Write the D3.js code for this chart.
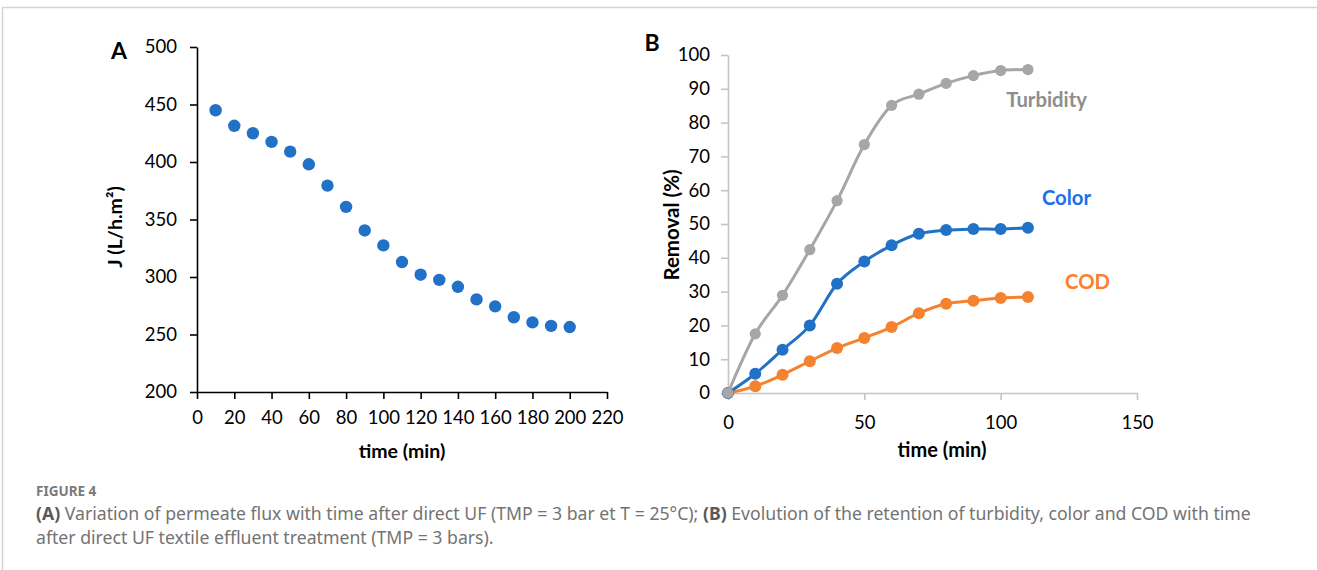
<!DOCTYPE html>
<html>
<head>
<meta charset="utf-8">
<script src="https://cdn.jsdelivr.net/npm/d3@7/dist/d3.min.js"></script>
<style>
  body { margin: 0; background: #fff; }
  svg { display: block; }
</style>
</head>
<body>
<script>
// data for panel A (flux vs time)
var fluxTime = [10, 20, 30, 40, 50, 60, 70, 80, 90, 100, 110, 120, 130, 140, 150, 160, 170, 180, 190, 200];
var fluxJ = [445, 431.5, 425, 417.5, 409, 398, 379.5, 361, 340.5, 327.5, 313, 302, 297.5, 291.5, 280.5, 274.5, 265, 260.5, 257.5, 256.5];
var fluxXTicks = [0, 20, 40, 60, 80, 100, 120, 140, 160, 180, 200, 220];
var fluxYTicks = [200, 250, 300, 350, 400, 450, 500];

// data for panel B (removal vs time)
var remTime = [0, 10, 20, 30, 40, 50, 60, 70, 80, 90, 100, 110];
var turbidity = [0, 17.5, 28.9, 42.4, 56.9, 73.5, 85.1, 88.4, 91.6, 93.9, 95.4, 95.7];
var color = [0, 5.7, 12.8, 20.0, 32.3, 38.9, 43.7, 47.1, 48.2, 48.5, 48.5, 48.9];
var cod = [0, 2.0, 5.4, 9.4, 13.3, 16.3, 19.5, 23.6, 26.4, 27.3, 28.1, 28.4];
var seriesNames = ["COD", "Color", "Turbidity"];
var remXTicks = [0, 50, 100, 150];
var remYTicks = [0, 10, 20, 30, 40, 50, 60, 70, 80, 90, 100];

var W = 1317, H = 570;
var chartFont = "Lato, 'Open Sans', sans-serif";
var tickFs = 18.5;

var svg = d3.select("body").append("svg")
  .attr("width", W)
  .attr("height", H);

// page frame (top + left rule)
svg.append("line").attr("x1", 2).attr("x2", W).attr("y1", 7.5).attr("y2", 7.5)
  .attr("stroke", "#d4d4d4").attr("stroke-width", 1.5);
svg.append("line").attr("x1", 2.5).attr("x2", 2.5).attr("y1", 7).attr("y2", H)
  .attr("stroke", "#d4d4d4").attr("stroke-width", 1.5);

// ---------- panel A ----------
var xA = d3.scaleLinear().domain([0, 220]).range([197, 607]);
var yA = d3.scaleLinear().domain([200, 500]).range([392, 47]);

var gA = svg.append("g");

var axAx = gA.append("g")
  .attr("transform", "translate(0," + yA(200) + ")")
  .call(d3.axisBottom(xA).tickValues(fluxXTicks).tickSize(7).tickPadding(12).tickSizeOuter(0));
var axAy = gA.append("g")
  .attr("transform", "translate(" + xA(0) + ",0)")
  .call(d3.axisLeft(yA).tickValues(fluxYTicks).tickSize(7).tickPadding(13).tickSizeOuter(0));

[axAx, axAy].forEach(function (ax) {
  ax.selectAll("path, line").attr("stroke", "#000").attr("stroke-width", 1.6);
  ax.selectAll("text").attr("font-family", chartFont).attr("font-size", tickFs).attr("fill", "#000");
});

gA.selectAll("circle.flux")
  .data(fluxTime)
  .enter()
  .append("circle")
  .attr("class", "flux")
  .attr("cx", function (d) { return xA(d); })
  .attr("cy", function (d, i) { return yA(fluxJ[i]); })
  .attr("r", 6.2)
  .attr("fill", "#2171c7");

gA.append("text")
  .attr("x", 402).attr("y", 458)
  .attr("text-anchor", "middle")
  .attr("font-family", chartFont).attr("font-weight", "bold").attr("font-size", 19.5)
  .text("time (min)");

gA.append("text")
  .attr("transform", "translate(122,227) rotate(-90)")
  .attr("text-anchor", "middle")
  .attr("font-family", chartFont).attr("font-weight", "bold").attr("font-size", 19.5)
  .text("J (L/h.m²)");

gA.append("text")
  .attr("x", 119).attr("y", 59)
  .attr("text-anchor", "middle")
  .attr("font-family", chartFont).attr("font-weight", "bold").attr("font-size", 23)
  .text("A");

// ---------- panel B ----------
var xB = d3.scaleLinear().domain([0, 150]).range([728, 1137]);
var yB = d3.scaleLinear().domain([0, 100]).range([393, 55]);

var gB = svg.append("g");

var axBx = gB.append("g")
  .attr("transform", "translate(0," + yB(0) + ")")
  .call(d3.axisBottom(xB).tickValues(remXTicks).tickSize(7).tickPadding(16).tickSizeOuter(0));
var axBy = gB.append("g")
  .attr("transform", "translate(" + xB(0) + ",0)")
  .call(d3.axisLeft(yB).tickValues(remYTicks).tickSize(7).tickPadding(11).tickSizeOuter(0));

[axBx, axBy].forEach(function (ax) {
  ax.selectAll("path, line").attr("stroke", "#c4c4c4").attr("stroke-width", 1.6);
  ax.selectAll("text").attr("font-family", chartFont).attr("font-size", tickFs).attr("fill", "#000");
});

var seriesVals = { "COD": cod, "Color": color, "Turbidity": turbidity };
var lineCol = { "COD": "#f5822f", "Color": "#2171c7", "Turbidity": "#a6a6a6" };
var labelCol = { "COD": "#fb7f2c", "Color": "#1a6ff0", "Turbidity": "#8e8e8e" };
var labelPos = { "COD": [1110, 289], "Color": [1091, 205], "Turbidity": [1087, 107] };

var line = d3.line()
  .x(function (d) { return xB(d[0]); })
  .y(function (d) { return yB(d[1]); })
  .curve(d3.curveCatmullRom.alpha(0));

seriesNames.forEach(function (name) {
  var pts = remTime.map(function (t, i) { return [t, seriesVals[name][i]]; });
  gB.append("path")
    .datum(pts)
    .attr("d", line)
    .attr("fill", "none")
    .attr("stroke", lineCol[name])
    .attr("stroke-width", 3);
  gB.selectAll("circle.s" + name)
    .data(pts)
    .enter()
    .append("circle")
    .attr("class", "s" + name)
    .attr("cx", function (d) { return xB(d[0]); })
    .attr("cy", function (d) { return yB(d[1]); })
    .attr("r", name == "Turbidity" ? 5.6 : 6)
    .attr("fill", lineCol[name]);
  gB.append("text")
    .attr("x", labelPos[name][0]).attr("y", labelPos[name][1])
    .attr("text-anchor", "end")
    .attr("font-family", chartFont).attr("font-weight", "bold").attr("font-size", 20.3)
    .attr("fill", labelCol[name])
    .text(name);
});

gB.append("text")
  .attr("x", 942).attr("y", 457)
  .attr("text-anchor", "middle")
  .attr("font-family", chartFont).attr("font-weight", "bold").attr("font-size", 20)
  .text("time (min)");

gB.append("text")
  .attr("transform", "translate(679,225) rotate(-90)")
  .attr("text-anchor", "middle")
  .attr("font-family", chartFont).attr("font-weight", "bold").attr("font-size", 20.5)
  .text("Removal (%)");

gB.append("text")
  .attr("x", 652).attr("y", 51)
  .attr("text-anchor", "middle")
  .attr("font-family", chartFont).attr("font-weight", "bold").attr("font-size", 23)
  .text("B");

// ---------- caption ----------
var capFont = "'Noto Sans', 'Open Sans', sans-serif";
svg.append("text")
  .attr("x", 36).attr("y", 496)
  .attr("font-family", capFont).attr("font-size", 13.5).attr("font-weight", "bold")
  .attr("fill", "#7a7a7a")
  .text("FIGURE 4");

var cap1 = svg.append("text")
  .attr("x", 36).attr("y", 520)
  .attr("font-family", capFont).attr("font-size", 15.5)
  .attr("fill", "#737373");
cap1.append("tspan").attr("font-weight", "bold").attr("fill", "#5a5a5a").text("(A)");
cap1.append("tspan").text(" Variation of permeate flux with time after direct UF (TMP = 3 bar et T = 25°C); ");
cap1.append("tspan").attr("font-weight", "bold").attr("fill", "#5a5a5a").text("(B)");
cap1.append("tspan").text(" Evolution of the retention of turbidity, color and COD with time");

var cap2 = svg.append("text")
  .attr("x", 36).attr("y", 544)
  .attr("font-family", capFont).attr("font-size", 15.5)
  .attr("fill", "#737373")
  .text("after direct UF textile effluent treatment (TMP = 3 bars).");

// fit caption line 1 to its width in the figure
var len1 = cap1.node().getComputedTextLength();
var fs = 15.5 * 1216 / len1;
cap1.attr("font-size", fs);
cap2.attr("font-size", fs);
</script>
</body>
</html>
